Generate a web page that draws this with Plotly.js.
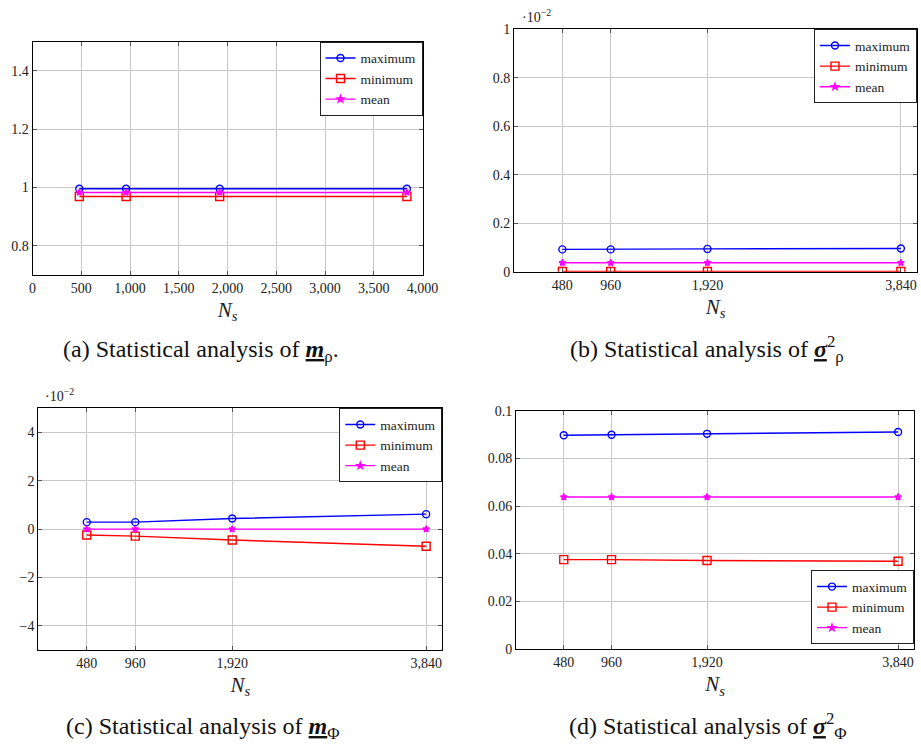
<!DOCTYPE html>
<html>
<head>
<meta charset="utf-8">
<script src="https://cdn.plot.ly/plotly-3.0.1.min.js"></script>
<style>html,body{margin:0;padding:0;background:#fff;}#chart{width:921px;height:749px;}</style>
</head>
<body>
<div id="chart"></div>
<script>
// ---- data ----
const Ns = [480, 960, 1920, 3840];
const seriesNames = ['maximum', 'minimum', 'mean'];

// (a) m_rho
const aMax = [0.996, 0.996, 0.996, 0.996];
const aMin = [0.969, 0.969, 0.969, 0.969];
const aMean = [0.983, 0.983, 0.983, 0.983];
// (b) sigma^2_rho  (in units of 1e-2)
const bMax = [0.092, 0.092, 0.094, 0.096];
const bMin = [0.001, 0.001, 0.001, 0.001];
const bMean = [0.037, 0.037, 0.037, 0.037];
// (c) m_Phi  (in units of 1e-2)
const cMax = [0.29, 0.29, 0.44, 0.62];
const cMin = [-0.24, -0.29, -0.45, -0.71];
const cMean = [0, 0, 0, 0];
// (d) sigma^2_Phi
const dMax = [0.0897, 0.0899, 0.0903, 0.0911];
const dMin = [0.0376, 0.0376, 0.0372, 0.0369];
const dMean = [0.0638, 0.0638, 0.0638, 0.0638];

// tick labels
const aXticks = [0, 500, 1000, 1500, 2000, 2500, 3000, 3500, 4000];
const aXtext = ['0', '500', '1,000', '1,500', '2,000', '2,500', '3,000', '3,500', '4,000'];
const aYticks = [0.8, 1.0, 1.2, 1.4];
const aYtext = ['0.8', '1', '1.2', '1.4'];
const nsText = ['480', '960', '1,920', '3,840'];
const bYticks = [0, 0.2, 0.4, 0.6, 0.8, 1];
const bYtext = ['0', '0.2', '0.4', '0.6', '0.8', '1'];
const cYticks = [-4, -2, 0, 2, 4];
const cYtext = ['\u22124', '\u22122', '0', '2', '4'];
const dYticks = [0, 0.02, 0.04, 0.06, 0.08, 0.1];
const dYtext = ['0', '0.02', '0.04', '0.06', '0.08', '0.1'];

// ---- styling ----
const FONT = '"Liberation Serif", "Times New Roman", "DejaVu Serif", serif';
const colors = ['#0000ff', '#ff0000', '#ff00ff'];
const symbols = ['circle-open', 'square-open', 'star'];
const msizes = [7, 8, 5];

function mk(xa, ya, leg, vals) {
  return vals.map((v, i) => ({
    type: 'scatter', mode: 'lines+markers',
    x: Ns, y: v, name: seriesNames[i],
    xaxis: xa, yaxis: ya, legend: leg,
    line: {color: colors[i], width: 1.4},
    marker: {symbol: symbols[i], size: msizes[i], color: colors[i], line: {color: colors[i], width: 1.4}}
  }));
}

const data = [].concat(
  mk('x', 'y', 'legend', [aMax, aMin, aMean]),
  mk('x2', 'y2', 'legend2', [bMax, bMin, bMean]),
  mk('x3', 'y3', 'legend3', [cMax, cMin, cMean]),
  mk('x4', 'y4', 'legend4', [dMax, dMin, dMean])
);

const W = 921, H = 749;
const px = v => v / W;
const py = v => 1 - v / H;

function xax(dom, tv, tt, anchor) {
  return {
    domain: [px(dom[0]), px(dom[1])], anchor: anchor, range: [0, 4000],
    tickmode: 'array', tickvals: tv, ticktext: tt,
    showgrid: true, gridcolor: '#c8c8c8', gridwidth: 1, zeroline: false,
    showline: true, linecolor: '#000', linewidth: 1, mirror: 'ticks',
    ticks: 'inside', ticklen: 4, tickcolor: '#555', tickwidth: 1,
    tickfont: {family: FONT, size: 14, color: '#222'},
    title: {text: '<i>N</i><sub><i>s</i></sub>', font: {family: FONT, size: 21, color: '#222'}, standoff: 7},
    fixedrange: true
  };
}
function yax(dom, range, tv, tt, anchor) {
  return {
    domain: [py(dom[1]), py(dom[0])], anchor: anchor, range: range,
    tickmode: 'array', tickvals: tv, ticktext: tt,
    showgrid: true, gridcolor: '#c8c8c8', gridwidth: 1, zeroline: false,
    showline: true, linecolor: '#000', linewidth: 1, mirror: 'ticks',
    ticks: 'inside', ticklen: 4, tickcolor: '#555', tickwidth: 1,
    tickfont: {family: FONT, size: 14, color: '#222'},
    fixedrange: true
  };
}
function leg(x, y, xanchor, yanchor) {
  return {
    x: x, y: y, xanchor: xanchor, yanchor: yanchor,
    bgcolor: '#fff', bordercolor: '#222', borderwidth: 1,
    font: {family: FONT, size: 13.5, color: '#222'},
    itemwidth: 30, tracegroupgap: 0
  };
}

const capFont = {family: FONT, size: 24, color: '#111'};
function note(x, y, text, font) {
  return {xref: 'paper', yref: 'paper', x: px(x), y: py(y), xanchor: 'center', yanchor: 'middle',
          text: text, showarrow: false, font: font};
}
const smallFont = {family: FONT, size: 14, color: '#222'};
const layout = {
  width: W, height: H,
  margin: {l: 0, r: 0, t: 0, b: 0},
  paper_bgcolor: '#fff', plot_bgcolor: '#fff',
  showlegend: true,
  xaxis: xax([32.5, 422.5], aXticks, aXtext, 'y'),
  yaxis: yax([41.7, 275], [0.7, 1.5], aYticks, aYtext, 'x'),
  xaxis2: xax([514, 917], Ns, nsText, 'y2'),
  yaxis2: yax([29.3, 271.7], [0, 1], bYticks, bYtext, 'x2'),
  xaxis3: xax([38.3, 442.3], Ns, nsText, 'y3'),
  yaxis3: yax([408.3, 650], [-5, 5], cYticks, cYtext, 'x3'),
  xaxis4: xax([516, 914], Ns, nsText, 'y4'),
  yaxis4: yax([410.7, 649.3], [0, 0.1], dYticks, dYtext, 'x4'),
  legend: leg(px(422.5), py(41.7), 'right', 'top'),
  legend2: leg(px(917), py(29.3), 'right', 'top'),
  legend3: leg(px(442.3), py(408.3), 'right', 'top'),
  legend4: leg(px(914), py(644.3), 'right', 'bottom'),
  annotations: [
    note(536, 16, '\u00b710<sup>\u22122</sup>', smallFont),
    note(59, 395, '\u00b710<sup>\u22122</sup>', smallFont),
    note(201, 351, '(a) Statistical analysis of <b><i><u>m</u></i></b><sub>\u03c1</sub>.', capFont),
    note(707, 349, '(b) Statistical analysis of <b><i><u>\u03c3</u></i></b><sup>2</sup><sub>\u03c1</sub>', capFont),
    note(203, 728, '(c) Statistical analysis of <b><i><u>m</u></i></b><sub>\u03a6</sub>', capFont),
    note(708, 726, '(d) Statistical analysis of <b><i><u>\u03c3</u></i></b><sup>2</sup><sub>\u03a6</sub>', capFont)
  ]
};

Plotly.newPlot('chart', data, layout, {staticPlot: true, displayModeBar: false});
</script>
</body>
</html>
